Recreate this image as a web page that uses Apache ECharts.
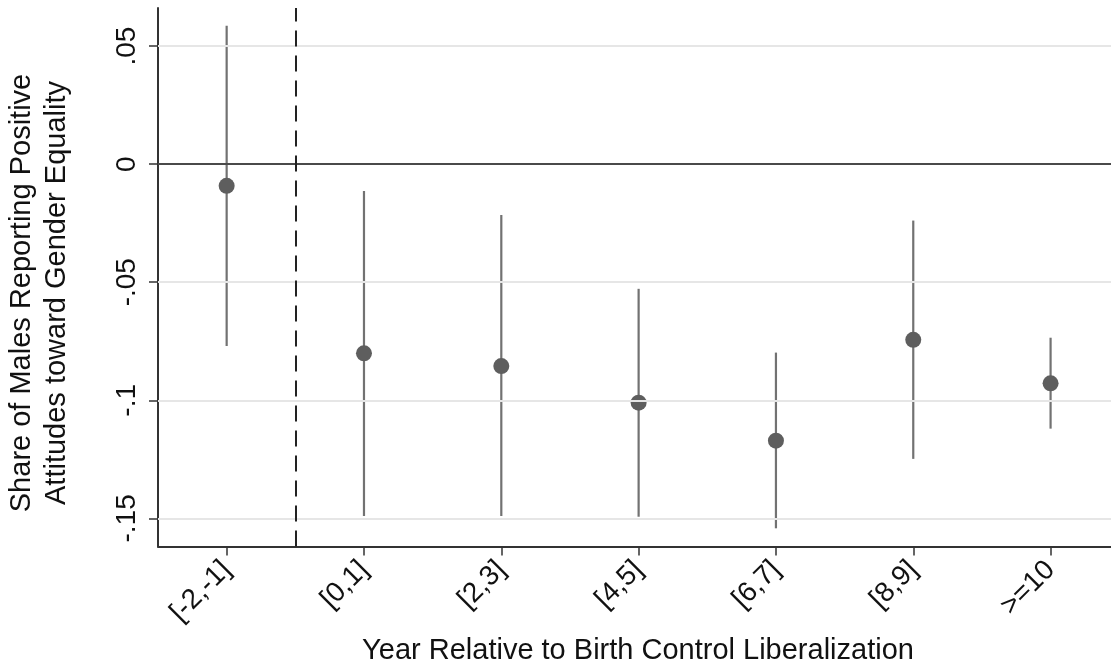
<!DOCTYPE html>
<html>
<head>
<meta charset="utf-8">
<script src="https://cdn.jsdelivr.net/npm/echarts@6/dist/echarts.min.js"></script>
<style>
html,body{margin:0;padding:0;background:#fff;}
#chart{width:1111px;height:669px;}
</style>
</head>
<body>
<div id="chart"></div>
<script>
// ---- data ----
const categories = ['[-2,-1]', '[0,1]', '[2,3]', '[4,5]', '[6,7]', '[8,9]', '>=10'];
const estimates  = [-0.0092, -0.0801, -0.0855, -0.1010, -0.1171, -0.0744, -0.0928];
const ciLow      = [-0.0770, -0.1490, -0.1490, -0.1493, -0.1542, -0.1248, -0.1120];
const ciHigh     = [ 0.0586, -0.0114, -0.0215, -0.0528, -0.0798, -0.0239, -0.0735];
const yTicks     = [-0.15, -0.1, -0.05, 0, 0.05];
const yTickLabels = ['-.15', '-.1', '-.05', '0', '.05'];
const xTitle = 'Year Relative to Birth Control Liberalization';
const yTitle = ['Share of Males Reporting Positive', 'Attitudes toward Gender Equality'];

const xPos = categories.map((c, i) => i + 1);
const FONT = '"Liberation Sans", Arial, sans-serif';

const chart = echarts.init(document.getElementById('chart'), null, {renderer: 'canvas'});

const ciData = categories.map((c, i) => [xPos[i], ciLow[i], ciHigh[i]]);
const ptData = categories.map((c, i) => [xPos[i], estimates[i]]);

const option = {
  backgroundColor: '#ffffff',
  animation: false,
  grid: {left: 158, right: 0, top: 8, bottom: 669 - 546.5, containLabel: false},
  xAxis: {
    type: 'value',
    min: 0.5,
    max: 7.44,
    axisLine: {show: true, onZero: false, lineStyle: {color: '#333', width: 2}},
    axisTick: {show: true, length: 9, lineStyle: {color: '#333', width: 1.5}, customValues: xPos},
    axisLabel: {
      customValues: xPos,
      rotate: 45,
      margin: 19,
      fontSize: 28,
      color: '#111',
      fontFamily: FONT,
      formatter: v => categories[Math.round(v) - 1] || ''
    },
    splitLine: {show: false}
  },
  yAxis: {
    type: 'value',
    min: -0.1619,
    max: 0.0661,
    axisLine: {show: true, onZero: false, lineStyle: {color: '#333', width: 2}},
    axisTick: {show: true, length: 9, lineStyle: {color: '#333', width: 1.5}, customValues: yTicks},
    axisLabel: {
      customValues: yTicks,
      rotate: 90,
      margin: 17,
      fontSize: 28,
      color: '#111',
      fontFamily: FONT,
      formatter: v => {
        const i = yTicks.findIndex(t => Math.abs(t - v) < 1e-9);
        return i >= 0 ? yTickLabels[i] : '';
      }
    },
    splitLine: {show: false}
  },
  series: [
    {
      type: 'line',
      data: [],
      silent: true,
      markLine: {
        silent: true,
        symbol: 'none',
        label: {show: false},
        data: yTicks.filter(t => t !== 0).map(t => ({yAxis: t, lineStyle: {color: '#e6e6e6', width: 2, type: 'solid'}}))
      },
      z: 1
    },
    {
      type: 'line',
      data: [],
      silent: true,
      markLine: {
        silent: true,
        symbol: 'none',
        label: {show: false},
        data: [
          {yAxis: 0, lineStyle: {color: '#4a4a4a', width: 2, type: 'solid'}},
          {xAxis: 1.5, lineStyle: {color: '#222', width: 2, type: [16, 9]}}
        ]
      },
      z: 2
    },
    {
      type: 'custom',
      data: ciData,
      z: 3,
      renderItem: function (params, api) {
        const x = api.value(0);
        const p1 = api.coord([x, api.value(1)]);
        const p2 = api.coord([x, api.value(2)]);
        return {
          type: 'line',
          shape: {x1: p1[0], y1: p1[1], x2: p2[0], y2: p2[1]},
          style: {stroke: '#727272', lineWidth: 2.2}
        };
      }
    },
    {
      type: 'scatter',
      data: ptData,
      symbol: 'circle',
      symbolSize: 16,
      itemStyle: {color: '#5e5e5e', opacity: 1},
      z: 4
    }
  ],
  graphic: [
    {
      type: 'text',
      x: 638, y: 651,
      style: {text: xTitle, font: '29px ' + FONT, fill: '#111', align: 'center', verticalAlign: 'middle'}
    },
    {
      type: 'text',
      x: 22, y: 293,
      rotation: Math.PI / 2,
      style: {text: yTitle[0], font: '29px ' + FONT, fill: '#111', align: 'center', verticalAlign: 'middle'}
    },
    {
      type: 'text',
      x: 57, y: 293,
      rotation: Math.PI / 2,
      style: {text: yTitle[1], font: '29px ' + FONT, fill: '#111', align: 'center', verticalAlign: 'middle'}
    }
  ]
};
chart.setOption(option);
</script>
</body>
</html>
